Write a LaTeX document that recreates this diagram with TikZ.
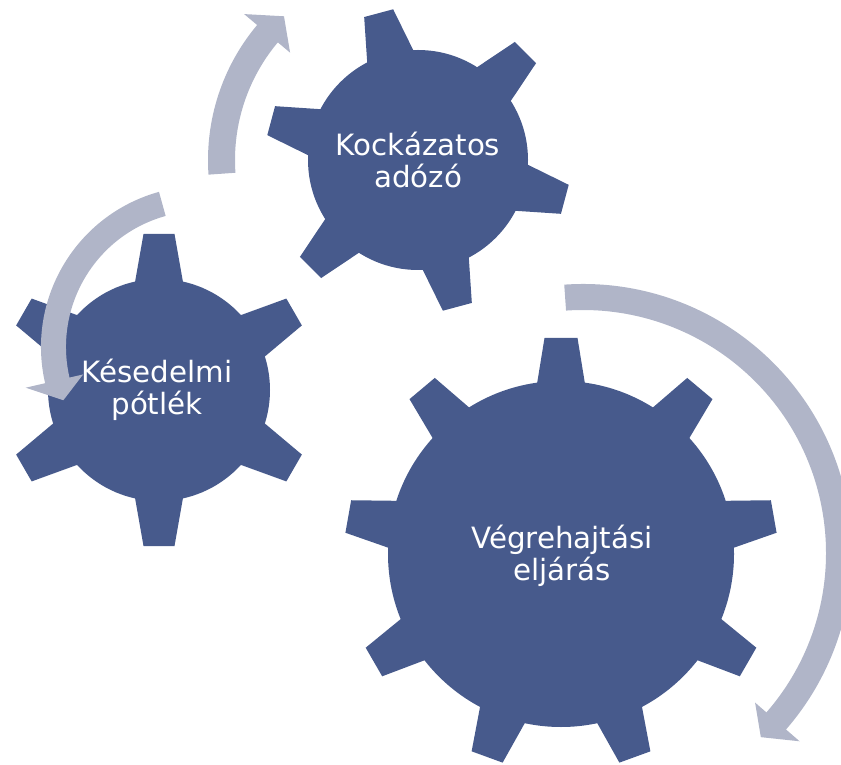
\documentclass[tikz,border=0pt]{standalone}
\usepackage{fontspec}
\setmainfont{DejaVu Sans}
\definecolor{gearblue}{RGB}{71,90,140}
\definecolor{arrowgray}{RGB}{176,181,200}
\tikzset{
  gearfill/.style={fill=gearblue},
  arrowfill/.style={fill=arrowgray},
  gearlabel/.style={text=white, font=\fontsize{22}{24}\selectfont, align=center, inner sep=0pt}
}
% #1 cx, #2 cy, #3 body radius, #4 outer radius, #5 teeth, #6 first angle, #7 half tip, #8 half base
\newcommand\drawgear[8]{%
  \fill[gearfill] (#1,#2) circle[radius=#3];
  \foreach \k in {1,...,#5}{
    \fill[gearfill, shift={(#1,#2)}, rotate={#6+360/#5*(\k-1)}]
      ({#3-6},{-(#8+1)}) -- (#4,-#7) -- (#4,#7) -- ({#3-6},{#8+1}) -- cycle;
  }%
}
\begin{document}
\begin{tikzpicture}[x=0.75pt,y=0.75pt]
\useasboundingbox (0,0) rectangle (841,764);
\clip (0,0) rectangle (841,764);
% gears
\drawgear{159}{374}{111}{156}{6}{90}{15.5}{23.5}
\drawgear{418}{604}{110}{152}{6}{105}{15}{23.5}
\drawgear{561}{210}{173}{216}{9}{90}{16.5}{23.5}
% arrows
\fill[arrowfill, shift={(583,211)}] (94:269) arc[start angle=94, end angle=-41, radius=269]
  -- (-41:287) -- (-46:256) -- (-41:228) -- (-41:243)
  arc[start angle=-41, end angle=94, radius=243] -- cycle;
\fill[arrowfill, shift={(418,604)}] (184:210) arc[start angle=184, end angle=140, radius=210]
  -- (140:227) -- (133:196.5) -- (140:167) -- (140:183)
  arc[start angle=140, end angle=184, radius=183] -- cycle;
\fill[arrowfill, shift={(202,417)}] (105.5:161) arc[start angle=105.5, end angle=193, radius=161]
  -- (193:181) -- (201:148.5) -- (193:122) -- (193:136)
  arc[start angle=193, end angle=105.5, radius=136] -- cycle;
% labels
\node[gearlabel] (kockazatos) at (418,604) {Kockázatos\\adózó};
\node[gearlabel] (kesedelmi) at (157,374) {Késedelmi\\pótlék};
\node[gearlabel] (vegrehajtasi) at (562,208) {Végrehajtási\\eljárás};
\end{tikzpicture}
\end{document}
